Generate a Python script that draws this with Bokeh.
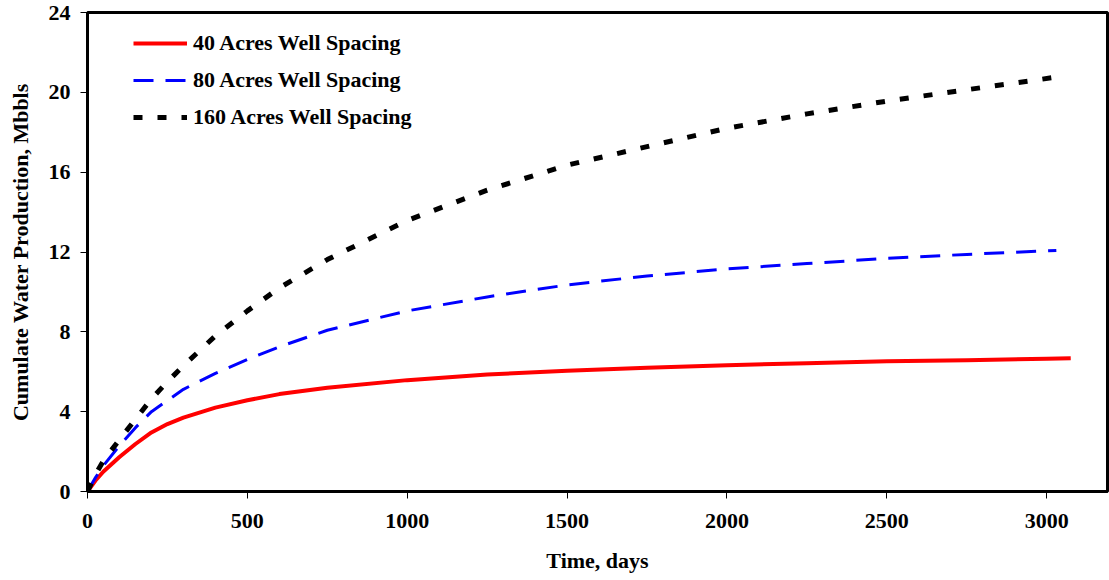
from bokeh.plotting import figure
from bokeh.models import FixedTicker, Range1d, Legend, LegendItem
from bokeh.embed import file_html
from bokeh.resources import INLINE

# Data
days_40 = [0, 25, 50, 100, 150, 200, 250, 300, 400, 500, 600, 750, 1000, 1250, 1500, 1750, 2000, 2250, 2500, 2750, 3000, 3075]
water_40 = [0, 0.55, 1.00, 1.73, 2.38, 2.96, 3.38, 3.70, 4.20, 4.57, 4.88, 5.20, 5.58, 5.86, 6.05, 6.20, 6.33, 6.43, 6.52, 6.58, 6.65, 6.68]

days_80 = [0, 25, 50, 100, 150, 200, 300, 400, 500, 600, 750, 1000, 1250, 1500, 1750, 2000, 2250, 2500, 2750, 3030]
water_80 = [0, 0.70, 1.30, 2.30, 3.20, 4.00, 5.12, 5.92, 6.62, 7.25, 8.08, 9.05, 9.75, 10.35, 10.80, 11.15, 11.42, 11.68, 11.88, 12.08]

days_160 = [0, 25, 50, 100, 150, 200, 250, 300, 400, 500, 600, 750, 1000, 1250, 1500, 1750, 2000, 2250, 2500, 2750, 3025]
water_160 = [0, 0.85, 1.55, 2.60, 3.62, 4.64, 5.50, 6.30, 7.80, 9.05, 10.20, 11.62, 13.58, 15.10, 16.35, 17.28, 18.20, 18.92, 19.56, 20.13, 20.75]

series_labels = ["40 Acres Well Spacing", "80 Acres Well Spacing", "160 Acres Well Spacing"]
x_ticks = [0, 500, 1000, 1500, 2000, 2500, 3000]
y_ticks = [0, 4, 8, 12, 16, 20, 24]

FONT = "Liberation Serif"

p = figure(width=1109, height=580, output_backend="svg", toolbar_location=None,
           x_range=Range1d(0, 3190), y_range=Range1d(0, 24),
           min_border_left=87, min_border_right=2, min_border_top=12, min_border_bottom=89)

p.xgrid.visible = False
p.ygrid.visible = False
p.outline_line_color = "black"
p.outline_line_width = 3
p.background_fill_color = "white"
p.border_fill_color = "white"

r40 = p.line(days_40, water_40, line_color="#ff0000", line_width=4, line_join="round")
r80 = p.line(days_80, water_80, line_color="#0000ff", line_width=3, line_dash="20 12", line_join="round")
r160 = p.line(days_160, water_160, line_color="black", line_width=5, line_dash="9 15", line_join="round")

for ax in (p.xaxis[0], p.yaxis[0]):
    ax.axis_line_width = 3
    ax.axis_line_color = "black"
    ax.major_tick_out = 7
    ax.major_tick_in = 0
    ax.major_tick_line_width = 1
    ax.minor_tick_out = 0
    ax.minor_tick_in = 0
    ax.major_label_text_font = FONT
    ax.major_label_text_font_style = "bold"
    ax.major_label_text_font_size = "22px"
    ax.major_label_text_color = "black"
    ax.axis_label_text_font = FONT
    ax.axis_label_text_font_style = "bold"
    ax.axis_label_text_font_size = "22px"
    ax.axis_label_text_color = "black"

p.xaxis.ticker = FixedTicker(ticks=x_ticks)
p.yaxis.ticker = FixedTicker(ticks=y_ticks)
p.xaxis.axis_label = "Time, days"
p.yaxis.axis_label = "Cumulate Water Production, Mbbls"
p.xaxis.major_label_standoff = 15
p.yaxis.major_label_standoff = 10
p.xaxis.axis_label_standoff = 17
p.yaxis.axis_label_standoff = 13

legend = Legend(items=[LegendItem(label=series_labels[0], renderers=[r40]),
                       LegendItem(label=series_labels[1], renderers=[r80]),
                       LegendItem(label=series_labels[2], renderers=[r160])],
                location=(46, 361))
legend.border_line_color = None
legend.background_fill_alpha = 0
legend.padding = 0
legend.margin = 0
legend.spacing = 11
legend.glyph_width = 54
legend.glyph_height = 22
legend.label_height = 22
legend.label_standoff = 6
legend.label_text_font = FONT
legend.label_text_font_style = "bold"
legend.label_text_font_size = "22px"
legend.label_text_color = "black"
p.add_layout(legend, "center")

open("out.html", "w").write(file_html(p, INLINE))
